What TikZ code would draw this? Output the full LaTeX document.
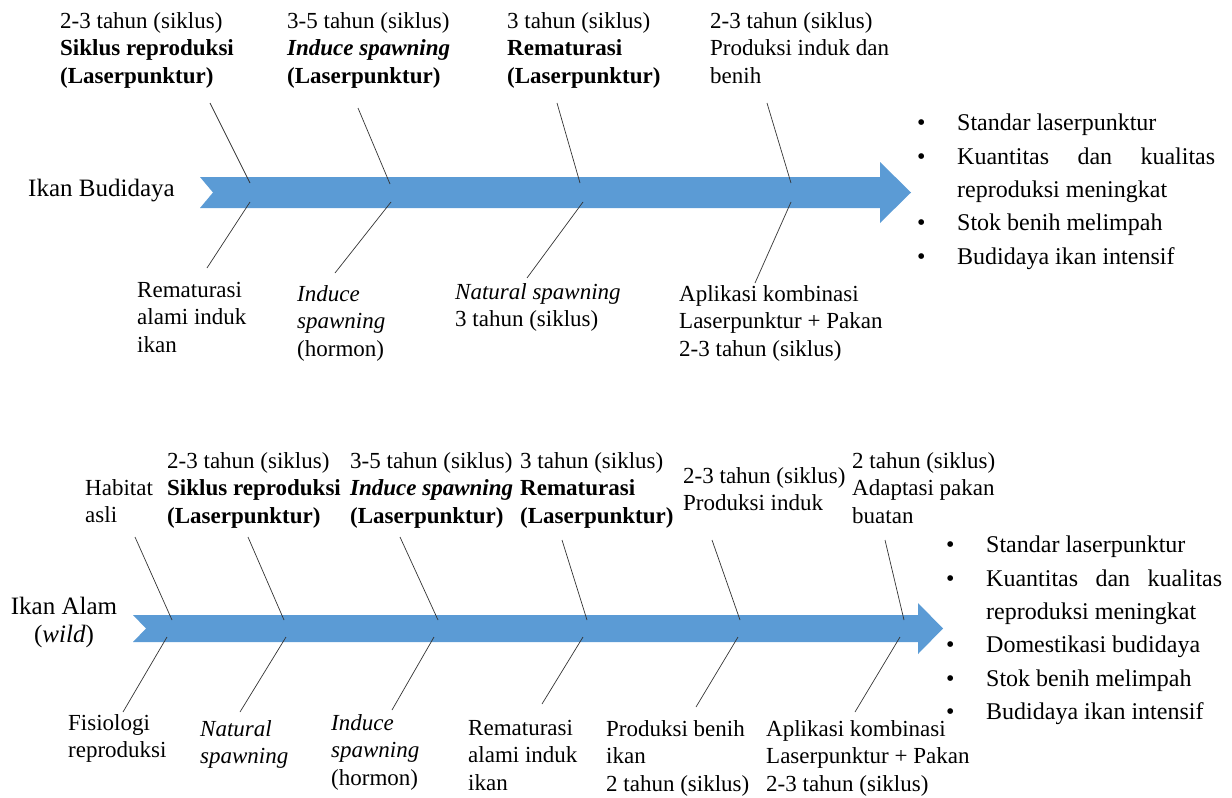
\documentclass[tikz,border=0pt]{standalone}
\usepackage{fontspec}
\setmainfont{Liberation Serif}
\definecolor{arrowblue}{HTML}{5B9BD5}
\tikzset{
  lbl/.style={anchor=north west, inner sep=0pt, align=left, font=\fontsize{23}{27.5}\selectfont},
  big/.style={font=\fontsize{25}{28}\selectfont},
  bone/.style={line width=0.7pt, black!80},
  fish/.style={fill=arrowblue, draw=none},
  lst/.style={anchor=north west, inner sep=0pt, align=justify, font=\fontsize{24}{33.3}\selectfont}
}
\newcommand\lstsetup{\hyphenpenalty=10000\exhyphenpenalty=10000\tolerance=10000\hbadness=10000\relax}
\newcommand\bitem[1]{\noindent\hangindent=35pt\hangafter=1\makebox[35pt][l]{\hspace{-5pt}\textbullet}#1\par}
\begin{document}
\begin{tikzpicture}[x=1pt,y=-1pt]
\useasboundingbox (0,0) rectangle (1232,798);
% ---------- top fishbone ----------
\fill[fish] (200,177) -- (880,177) -- (880,162) -- (911,192.5) -- (880,223) -- (880,208) -- (200,208) -- (213,192.5) -- cycle;
\node[lbl, big, anchor=west] (tIkan) at (28,191) {Ikan Budidaya};
\node[lbl] (tA) at (60,12) {2-3 tahun (siklus)\\\textbf{Siklus reproduksi}\\\textbf{(Laserpunktur)}};
\node[lbl] (tB) at (287,12) {3-5 tahun (siklus)\\\textbf{\textit{Induce spawning}}\\\textbf{(Laserpunktur)}};
\node[lbl] (tC) at (507,12) {3 tahun (siklus)\\\textbf{Rematurasi}\\\textbf{(Laserpunktur)}};
\node[lbl] (tD) at (710,12) {2-3 tahun (siklus)\\Produksi induk dan\\benih};
\node[lbl] (tE) at (137,282) {Rematurasi\\alami induk\\ikan};
\node[lbl] (tF) at (297,285) {\textit{Induce}\\\textit{spawning}\\(hormon)};
\node[lbl] (tG) at (455,283) {\textit{Natural spawning}\\3 tahun (siklus)};
\node[lbl] (tH) at (679,285) {Aplikasi kombinasi\\Laserpunktur + Pakan\\2-3 tahun (siklus)};
\node[lst, text width=293pt] (tList) at (922,114) {\lstsetup
\bitem{Standar laserpunktur}%
\bitem{Kuantitas dan kualitas reproduksi meningkat}%
\bitem{Stok benih melimpah}%
\bitem{Budidaya ikan intensif}};
\coordinate (u1s) at (210,103); \coordinate (u1e) at (250,183);
\coordinate (u2s) at (358,108); \coordinate (u2e) at (390,184);
\coordinate (u3s) at (557,103); \coordinate (u3e) at (580,183);
\coordinate (u4s) at (767,103); \coordinate (u4e) at (791,183);
\coordinate (l1s) at (250,202); \coordinate (l1e) at (207,268);
\coordinate (l2s) at (391,202); \coordinate (l2e) at (335,273);
\coordinate (l3s) at (583,202); \coordinate (l3e) at (527,278);
\coordinate (l4s) at (791,202); \coordinate (l4e) at (755,283);
\foreach \b in {u1,u2,u3,u4,l1,l2,l3,l4} \draw[bone] (\b s) -- (\b e);
% ---------- bottom fishbone ----------
\fill[fish] (133,615) -- (918,615) -- (918,603) -- (943,628.5) -- (918,654) -- (918,642) -- (133,642) -- (146,628.5) -- cycle;
\node[lbl, big, align=center, anchor=center] (bIkan) at (64,622) {Ikan Alam\\(\textit{wild})};
\node[lbl] (bA) at (85,479) {Habitat\\asli};
\node[lbl] (bB) at (167,452) {2-3 tahun (siklus)\\\textbf{Siklus reproduksi}\\\textbf{(Laserpunktur)}};
\node[lbl] (bC) at (350,452) {3-5 tahun (siklus)\\\textbf{\textit{Induce spawning}}\\\textbf{(Laserpunktur)}};
\node[lbl] (bD) at (520,452) {3 tahun (siklus)\\\textbf{Rematurasi}\\\textbf{(Laserpunktur)}};
\node[lbl] (bE) at (683,467) {2-3 tahun (siklus)\\Produksi induk};
\node[lbl] (bF) at (852,452) {2 tahun (siklus)\\Adaptasi pakan\\buatan};
\node[lbl] (bG) at (68,714) {Fisiologi\\reproduksi};
\node[lbl] (bH) at (200,720) {\textit{Natural}\\\textit{spawning}};
\node[lbl] (bI) at (331,714) {\textit{Induce}\\\textit{spawning}\\(hormon)};
\node[lbl] (bJ) at (468,720) {Rematurasi\\alami induk\\ikan};
\node[lbl] (bK) at (606,720) {Produksi benih\\ikan\\2 tahun (siklus)};
\node[lbl] (bL) at (766,720) {Aplikasi kombinasi\\Laserpunktur + Pakan\\2-3 tahun (siklus)};
\node[lst, text width=271pt] (bList) at (951,536) {\lstsetup
\bitem{Standar laserpunktur}%
\bitem{Kuantitas dan kualitas reproduksi meningkat}%
\bitem{Domestikasi budidaya}%
\bitem{Stok benih melimpah}%
\bitem{Budidaya ikan intensif}};
\coordinate (U1s) at (135,537); \coordinate (U1e) at (172,620);
\coordinate (U2s) at (248,537); \coordinate (U2e) at (284,620);
\coordinate (U3s) at (400,537); \coordinate (U3e) at (438,620);
\coordinate (U4s) at (562,540); \coordinate (U4e) at (587,620);
\coordinate (U5s) at (712,540); \coordinate (U5e) at (740,620);
\coordinate (U6s) at (885,540); \coordinate (U6e) at (904,620);
\coordinate (L1s) at (167,637); \coordinate (L1e) at (123,712);
\coordinate (L2s) at (286,637); \coordinate (L2e) at (240,712);
\coordinate (L3s) at (434,637); \coordinate (L3e) at (392,710);
\coordinate (L4s) at (583,637); \coordinate (L4e) at (542,704);
\coordinate (L5s) at (738,637); \coordinate (L5e) at (696,707);
\coordinate (L6s) at (900,637); \coordinate (L6e) at (855,712);
\foreach \b in {U1,U2,U3,U4,U5,U6,L1,L2,L3,L4,L5,L6} \draw[bone] (\b s) -- (\b e);
\end{tikzpicture}
\end{document}
